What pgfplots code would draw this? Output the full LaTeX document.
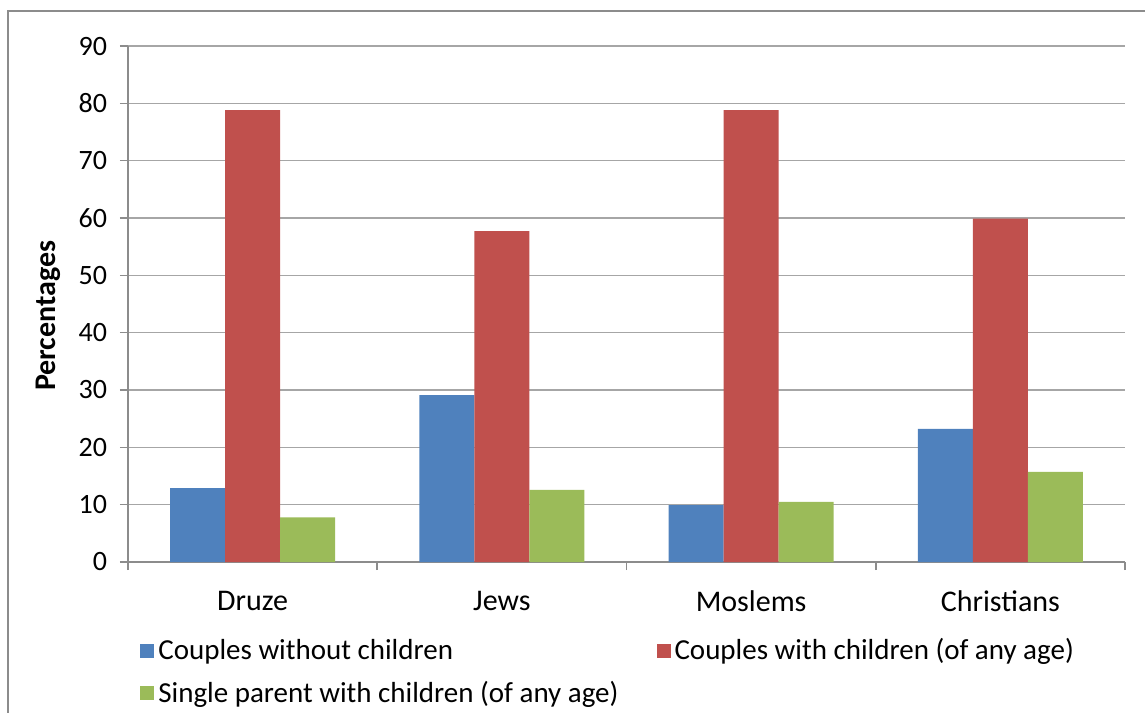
\documentclass[border=0pt]{standalone}
\usepackage{pgfplots}
\pgfplotsset{compat=1.18}
\usepackage{fontspec}
\setmainfont{Carlito}
\definecolor{cblue}{HTML}{4F81BD}
\definecolor{cred}{HTML}{C0504D}
\definecolor{cgreen}{HTML}{9BBB59}
\definecolor{cgrid}{HTML}{A6A6A6}
\definecolor{caxis}{HTML}{8C8C8C}
\begin{document}
\begin{tikzpicture}
\useasboundingbox (0,0) rectangle (572.5bp,-356.5bp);
\draw[color=caxis, line width=0.8bp] (4bp,-360bp) -- (4bp,-5.5bp) -- (580bp,-5.5bp);
\begin{axis}[
  at={(64bp,-281bp)}, anchor=south west,
  scale only axis, width=498.5bp, height=258bp,
  ymin=0, ymax=90, ytick={0,10,...,90},
  xmin=0.5, xmax=4.5,
  xtick={1,2,3,4}, xticklabels={Druze,Jews,Moslems,Christians},
  minor xtick={0.5,1.5,2.5,3.5,4.5},
  axis x line=bottom, axis y line=left,
  axis line style={-, draw=caxis, line width=0.8bp},
  ymajorgrids, grid style={draw=cgrid, line width=0.8bp},
  tick align=outside, major tick length=4bp, minor tick length=4bp,
  major x tick style={draw=none},
  minor x tick style={draw=caxis, line width=0.8bp},
  major y tick style={draw=caxis, line width=0.8bp},
  /pgf/number format/assume math mode=true,
  yticklabel style={font=\fontsize{14bp}{16bp}\selectfont, xshift=-3bp},
  xticklabel style={font=\fontsize{15bp}{17bp}\selectfont, yshift=-7bp},
  ylabel={\bfseries Percentages},
  ylabel style={at={(axis description cs:-0.08,0.477)}, anchor=center, font=\fontsize{15bp}{17bp}\selectfont},
  ybar=0pt, bar width=27.5bp,
  every axis plot post/.append style={legend image code/.code={\fill[#1] (0bp,-3.5bp) rectangle (7bp,3.5bp);}},
  legend columns=2,
  legend cell align=left,
  legend style={draw=none, fill=none, inner sep=0pt,
    at={(axis description cs:0.012,-0.14)}, anchor=north west,
    font=\fontsize{14.5bp}{16bp}\selectfont,
    /tikz/every even column/.append style={column sep=17bp},
    row sep=5bp},
]
\addplot[fill=cblue, draw=none] coordinates {(1,12.9) (2,29.1) (3,9.9) (4,23.2)};
\addplot[fill=cred, draw=none] coordinates {(1,78.8) (2,57.7) (3,78.8) (4,59.9)};
\addplot[fill=cgreen, draw=none] coordinates {(1,7.8) (2,12.6) (3,10.5) (4,15.7)};
\legend{Couples without children, Couples with children (of any age), Single parent with children (of any age)}
\end{axis}
\end{tikzpicture}
\end{document}
